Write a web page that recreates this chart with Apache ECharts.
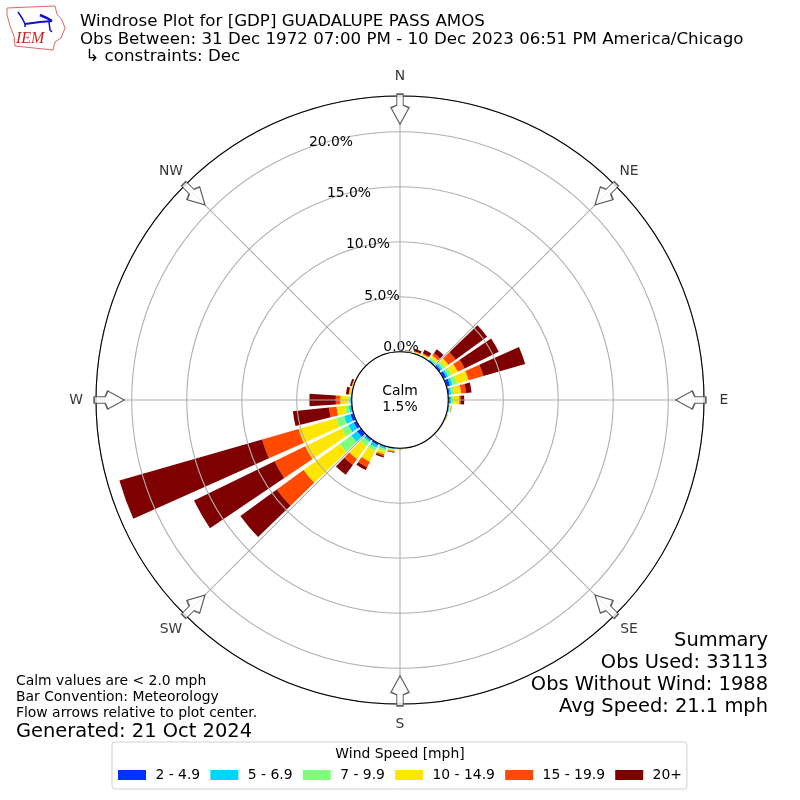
<!DOCTYPE html>
<html><head><meta charset="utf-8">
<style>html,body{margin:0;padding:0;background:#fff}#c{width:800px;height:800px}</style>
<script src="https://cdn.jsdelivr.net/npm/echarts@6/dist/echarts.min.js"></script>
</head><body><div id="c"></div>
<script>
const directions = [0,10,20,30,40,50,60,70,80,90,100,110,120,130,140,150,160,170,180,190,200,210,220,230,240,250,260,270,280,290,300,310,320,330,340,350];
const speedBins = ['2 - 4.9','5 - 6.9','7 - 9.9','10 - 14.9','15 - 19.9','20+'];
const speedColors = ['#0033ff','#00d5ff','#7dff7a','#ffe600','#ff4a00','#7f0000'];
const s2to5   = [.01,.02,.02,.03,.10,.20,.30,.35,.15,.15,.08,.05,.04,.03,.02,.02,.02,.01,.02,.05,.12,.20,.15,.45,.30,.30,.12,.08,.03,.02,.01,.01,.01,.01,.01,.01];
const s5to7   = [.01,.02,.03,.05,.10,.20,.20,.25,.15,.15,.07,.05,.03,.03,.02,.02,.01,.02,.02,.05,.15,.25,.20,.65,.55,.60,.18,.07,.05,.03,.02,.01,.01,.01,.01,.01];
const s7to10  = [.01,.03,.05,.07,.15,.25,.35,.40,.25,.20,.07,.04,.03,.02,.02,.01,.01,.01,.03,.07,.18,.35,.45,1.30,.65,.75,.35,.15,.07,.05,.02,.01,0,0,0,0];
const s10to15 = [.01,.03,.08,.12,.25,.40,.60,1.10,.65,.50,.08,.03,.02,.02,.01,.01,.02,.03,.05,.13,.30,1.05,1.45,4.05,3.70,3.55,.77,.75,.10,.05,.01,0,0,0,0,0];
const s15to20 = [0,.02,.05,.08,.25,.80,.70,1.40,.45,.12,.01,.01,0,0,0,0,0,0,.01,.07,.15,.55,.65,3.00,3.10,3.45,.68,.40,.05,.03,.01,0,0,0,0,0];
const s20plus = [0,.03,.22,.35,.45,3.55,3.45,3.95,.50,.33,.02,0,0,0,0,0,0,0,0,.05,.15,.30,1.10,4.10,8.15,13.50,3.30,2.40,.25,.17,0,0,0,0,0,0];
const speedValues = [s2to5,s5to7,s7to10,s10to15,s15to20,s20plus];
const compassTicks = [0,45,90,135,180,225,270,315];
const compassLabels = ['N','NE','E','SE','S','SW','W','NW'];
const radialTicks = [0,5,10,15,20];
const titleLines = ['Windrose Plot for [GDP] GUADALUPE PASS AMOS','Obs Between: 31 Dec 1972 07:00 PM - 10 Dec 2023 06:51 PM America/Chicago',' \u21B3 constraints: Dec'];
const summaryLines = ['Summary','Obs Used: 33113','Obs Without Wind: 1988','Avg Speed: 21.1 mph'];
const noteLines = ['Calm values are < 2.0 mph','Bar Convention: Meteorology','Flow arrows relative to plot center.'];
const generatedLine = 'Generated: 21 Oct 2024';
const calmText = 'Calm\n1.5%';
const legendTitle = 'Wind Speed [mph]';

const FF='DejaVu Sans';
const LABEL=13.9, BIG=19.44, HEAD=16.67;
const pad=(dx,dy)=>[dy>0?dy*2:0, dx<0?-dx*2:0, dy<0?-dy*2:0, dx>0?dx*2:0];
// label nudges [dx, dy] around the axis position, per radial tick
const nudge = {0:[1,-4],5:[-18,0],10:[-32,3],15:[-51,7],20:[-69,11]};
const rich = {};
radialTicks.forEach(t=>{
  const [dx,dy]=nudge[t];
  rich['t'+t]={fontFamily:FF,fontSize:LABEL,color:'#000',padding:pad(dx,dy)};
});
const arrowPath='path://M6,0 L12,0 L12,11 L17.5,13.5 L9,30 L0.5,13.5 L6,11 Z';
const series = speedBins.map((name,i)=>({
  name, type:'bar', coordinateSystem:'polar', stack:'rose', z:2,
  barCategoryGap:'20%',
  itemStyle:{color:speedColors[i]}, silent:true,
  data:directions.map((d,j)=>[speedValues[i][j],d])
}));
series.push({
  name:'arrows',type:'scatter',coordinateSystem:'polar',z:8,silent:true,clip:false,
  symbol:arrowPath,symbolSize:[18,30],
  symbolRotate:v=>-v[1],
  itemStyle:{color:'#fff',borderColor:'#333',borderWidth:1.3},
  data:compassTicks.map(a=>[22.05,a])
});
series.push({
  name:'compass',type:'scatter',coordinateSystem:'polar',z:8,silent:true,clip:false,
  symbol:'circle',symbolSize:1,itemStyle:{color:'transparent'},
  label:{show:true,position:'inside',align:'center',verticalAlign:'middle',fontFamily:FF,fontSize:LABEL,color:'#000',
    formatter:p=>compassLabels[p.dataIndex]},
  data:compassTicks.map(a=>[25.06,a])
});
const T=(text,left,top,size,lh,extra)=>Object.assign({text,left,top,padding:0,
  textStyle:{fontFamily:FF,fontSize:size,fontWeight:'normal',color:'#000',lineHeight:lh,align:(extra&&extra.textAlign)||'left'}},extra||{});
const titles=[
  T(titleLines.join('\n'),80,13,HEAD,17.6),
  T(summaryLines.join('\n'),768,630,BIG,22,{textAlign:'right'}),
  T(noteLines.join('\n'),16,673,LABEL,16),
  T(generatedLine,16,721,BIG,22),
  T(calmText,400,383,LABEL,16,{textAlign:'center'}),
  T(legendTitle,400,746,LABEL,16,{textAlign:'center',z:10})
];
const chart=echarts.init(document.getElementById('c'));
chart.setOption({
  animation:false,
  backgroundColor:'#fff',
  title:titles,
  polar:{center:[400,400],radius:[48.3,304]},
  angleAxis:{type:'value',min:0,max:360,interval:45,startAngle:90,clockwise:true,z:4,
    axisLine:{show:true,lineStyle:{color:'#000',width:1.1}},
    axisTick:{show:false},
    axisLabel:{show:false},
    splitLine:{show:true,lineStyle:{color:'#b0b0b0',width:1.1}}},
  radiusAxis:{type:'value',min:0,max:23.25,interval:5,z:3,
    axisLine:{show:false},axisTick:{show:false},
    axisLabel:{show:true,margin:0,showMaxLabel:false,align:'center',verticalAlign:'middle',rich,
      formatter:v=>radialTicks.includes(v)?`{t${v}|${v.toFixed(1)}%}`:''},
    splitLine:{show:true,lineStyle:{color:'#b0b0b0',width:1.1}}},
  legend:{data:speedBins,left:112,top:742,orient:'horizontal',itemWidth:28,itemHeight:10,itemGap:10.2,
    padding:[26,5,7,6],borderColor:'#d0d0d0',borderWidth:1,borderRadius:3,backgroundColor:'#fff',
    icon:'rect',selectedMode:false,z:5,
    textStyle:{fontFamily:FF,fontSize:LABEL,color:'#000',padding:[0,0,0,4.4]}},
  series,
  graphic:[
    {type:'polygon',silent:true,shape:{points:[[7,8],[30,7],[55,6],[57,14],[62,20],[65,28],[61,38],[55,42],[53,50],[15,46],[14,36],[10,26],[7,15]]},
     style:{fill:'#fff',stroke:'#d66',lineWidth:1}},
    {type:'polyline',silent:true,shape:{points:[[25,24],[40,22],[52,21]]},style:{stroke:'#11c',lineWidth:2,fill:null}},
    {type:'polyline',silent:true,shape:{points:[[18,12],[22,18],[25,24],[25,27]]},style:{stroke:'#11c',lineWidth:1.5,fill:null}},
    {type:'polyline',silent:true,shape:{points:[[40,15],[47,18],[52,21]]},style:{stroke:'#11c',lineWidth:2.5,fill:null}},
    {type:'polyline',silent:true,shape:{points:[[49,22],[50,30],[52,32]]},style:{stroke:'#11c',lineWidth:1.5,fill:null}},
    {type:'text',silent:true,style:{x:16,y:31,text:'IEM',fill:'#c22',font:'italic 16px "Liberation Serif"'}}
  ]
});
</script></body></html>
